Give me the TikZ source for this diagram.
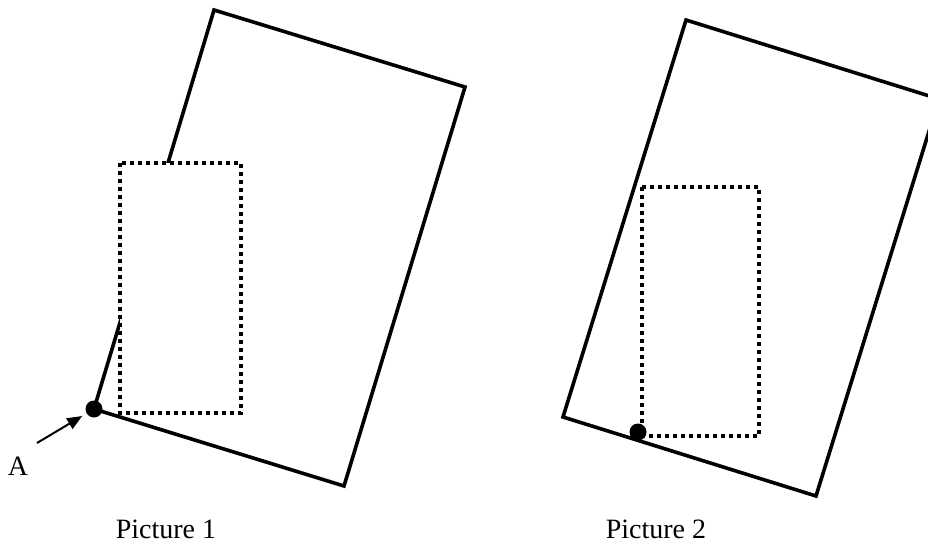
\documentclass[tikz,border=0pt]{standalone}
\usepackage{fontspec}
\setmainfont{Liberation Serif}
\usetikzlibrary{arrows.meta, positioning, calc}

\begin{document}
\begin{tikzpicture}[
    x=1pt, y=-1pt, % pixel-like coordinates, y going down
    frame/.style={
        draw,
        line width=3.6pt,
        line join=miter
    },
    window/.style={
        draw,
        fill=white,
        line width=3.4pt,
        dash pattern=on 4pt off 4pt
    },
    corner/.style={circle, fill, inner sep=0pt, minimum size=17pt},
    caption/.style={font=\fontsize{28}{32}\selectfont, inner sep=0pt},
    line/.style={-{Triangle[length=15pt,width=12pt]}, line width=2pt, shorten >=5pt}
 % arrow style
]

    \useasboundingbox (0,0) rectangle (928,545);
    \clip (0,0) rectangle (928,545);

    % picture 1
    \coordinate (ptop) at (214,10);
    \coordinate (pright) at (465,87);
    \coordinate (pbottom) at (344,486);
    \coordinate (pleft) at (94,409);
    \draw[frame] (pleft) -- (ptop) -- (pright) -- (pbottom) -- cycle;
    \draw[window] (120,163) rectangle (241,413);
    \node[corner] (dotA) at (pleft) {};
    \coordinate (tailA) at (37,443);
    \draw[line] (tailA) -- (dotA);
    \node[caption, anchor=base] (labelA) at (18,475) {A};
    \node[caption, anchor=base] (cap1) at (166,538) {Picture 1};

    % picture 2
    \coordinate (qtop) at (686,20);
    \coordinate (qright) at (939,99);
    \coordinate (qbottom) at (816,496);
    \coordinate (qleft) at (563,417);
    \draw[frame] (qleft) -- (qtop) -- (qright) -- (qbottom) -- cycle;
    \draw[window] (642,187) rectangle (759,436);
    \node[corner] (dotB) at (638,432) {};
    \node[caption, anchor=base] (cap2) at (656,538) {Picture 2};

\end{tikzpicture}
\end{document}
